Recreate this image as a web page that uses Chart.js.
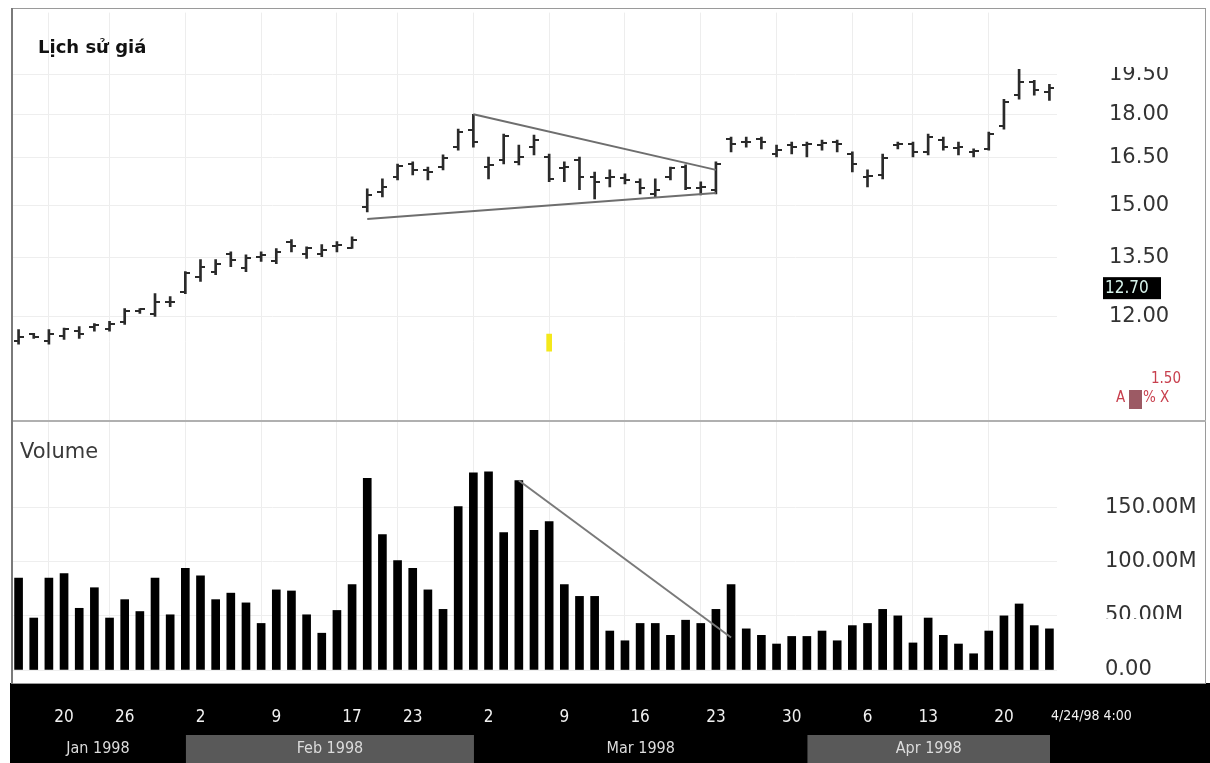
<!DOCTYPE html>
<html>
<head>
<meta charset="utf-8">
<script src="https://cdn.jsdelivr.net/npm/chart.js@4.4.1/dist/chart.umd.min.js"></script>
<style>
  html, body { margin: 0; padding: 0; background: #fff; }
  #wrap { width: 1210px; height: 763px; }
</style>
</head>
<body>
<div id="wrap"><canvas id="chart" width="1210" height="763"></canvas></div>
<script>
// trading days, Jan 14 - Apr 23 1998
const dates = [
  '1998-01-14','1998-01-15','1998-01-16','1998-01-20','1998-01-21','1998-01-22','1998-01-23',
  '1998-01-26','1998-01-27','1998-01-28','1998-01-29','1998-01-30',
  '1998-02-02','1998-02-03','1998-02-04','1998-02-05','1998-02-06',
  '1998-02-09','1998-02-10','1998-02-11','1998-02-12','1998-02-13',
  '1998-02-17','1998-02-18','1998-02-19','1998-02-20',
  '1998-02-23','1998-02-24','1998-02-25','1998-02-26','1998-02-27',
  '1998-03-02','1998-03-03','1998-03-04','1998-03-05','1998-03-06',
  '1998-03-09','1998-03-10','1998-03-11','1998-03-12','1998-03-13',
  '1998-03-16','1998-03-17','1998-03-18','1998-03-19','1998-03-20',
  '1998-03-23','1998-03-24','1998-03-25','1998-03-26','1998-03-27',
  '1998-03-30','1998-03-31','1998-04-01','1998-04-02','1998-04-03',
  '1998-04-06','1998-04-07','1998-04-08','1998-04-09',
  '1998-04-13','1998-04-14','1998-04-15','1998-04-16','1998-04-17',
  '1998-04-20','1998-04-21','1998-04-22','1998-04-23'
];

const openP = [11.42,11.58,11.42,11.53,11.65,11.74,11.69,11.86,12.12,12.05,
  12.34,12.61,13.00,13.13,13.61,13.23,13.53,13.40,13.94,13.61,
  13.61,13.83,13.77,14.95,15.40,15.87,16.29,16.10,16.19,16.85,
  17.44,16.19,16.42,16.36,16.85,16.52,16.16,16.42,15.87,15.84,
  15.84,15.72,15.34,15.87,16.19,15.53,15.47,17.13,17.02,17.13,
  16.62,16.92,16.92,16.92,17.02,16.62,15.87,15.94,16.92,16.95,
  16.69,17.09,16.82,16.69,16.79,17.58,18.70,19.19,18.81];
const highP = [11.69,11.60,11.69,11.72,11.76,11.83,11.88,12.19,12.19,12.56,
  12.49,13.13,13.45,13.45,13.66,13.58,13.66,13.75,14.00,13.80,
  13.86,13.94,14.08,15.50,15.81,16.29,16.36,16.19,16.59,17.47,
  18.00,16.52,17.30,16.92,17.26,16.62,16.36,16.52,16.03,16.10,
  15.97,15.81,15.81,16.19,16.26,15.72,16.36,17.19,17.19,17.19,
  16.92,17.02,17.02,17.09,17.09,16.69,16.10,16.62,17.02,17.02,
  17.30,17.19,17.02,16.79,17.37,18.55,19.70,19.27,19.11];
const lowP = [11.35,11.48,11.35,11.46,11.48,11.65,11.65,11.81,12.07,12.00,
  12.24,12.56,12.87,13.05,13.26,13.13,13.40,13.34,13.66,13.48,
  13.53,13.66,13.75,14.80,15.25,15.78,15.94,15.78,16.10,16.75,
  16.85,15.81,16.29,16.26,16.59,15.72,15.72,15.47,15.19,15.56,
  15.65,15.34,15.25,15.78,15.47,15.31,15.34,16.69,16.85,16.79,
  16.52,16.62,16.52,16.75,16.69,16.03,15.56,15.81,16.79,16.52,
  16.59,16.75,16.59,16.52,16.75,17.47,18.55,18.70,18.51];
const closeP = [11.51,11.51,11.58,11.69,11.58,11.79,11.83,12.14,12.17,12.36,
  12.36,13.08,13.26,13.34,13.45,13.50,13.56,13.66,13.83,13.77,
  13.72,13.86,14.00,15.31,15.56,16.23,16.10,16.03,16.49,17.37,
  17.02,16.26,17.23,16.52,17.09,15.81,16.19,15.87,15.72,15.87,
  15.78,15.53,15.47,16.16,15.53,15.56,16.29,16.95,17.02,17.02,
  16.75,16.85,16.95,16.98,16.95,16.29,15.90,16.49,16.95,16.69,
  17.19,16.85,16.85,16.72,17.30,18.44,19.19,18.89,18.96];

// volume in millions
const volume = [85,48,85,89,57,76,48,65,54,85,51,94,87,65,71,62,43,74,73,51,
  34,55,79,177,125,101,94,74,56,151,182,183,127,175,129,137,79,68,68,36,
  27,43,43,32,46,43,56,79,38,32,24,31,31,36,27,41,43,56,50,25,
  48,32,24,15,36,50,61,41,38];

const priceTicks = [12, 13.5, 15, 16.5, 18, 19.5];
const volumeTicks = [0, 50, 100, 150];
const monthNames = ['Jan','Feb','Mar','Apr','May','Jun','Jul','Aug','Sep','Oct','Nov','Dec'];

// trend lines drawn on the chart: [index, value]
const triUpper = [[30, 18.00], [46, 16.10]];
const triLower = [[23, 14.59], [46, 15.37]];
const volTrend = [[33, 175], [47, 30]];
const lastPrice = 12.70;

const dayObj = dates.map(d => new Date(d + 'T12:00:00'));
const weekStart = new Set();
const weekEnd = new Set();
dayObj.forEach((d, i) => {
  if (i > 0 && d.getDay() < dayObj[i - 1].getDay()) weekStart.add(i);
  if (i < dayObj.length - 1 && dayObj[i + 1].getDay() < d.getDay()) weekEnd.add(i);
});

function lineData(pts) {
  const arr = dates.map(() => null);
  pts.forEach(p => { arr[p[0]] = p[1]; });
  return arr;
}

const yellowMark = dates.map(() => null);
yellowMark[35] = [11.19, 11.58];

const FONT = '"DejaVu Sans", sans-serif';
const COND = '"DejaVu Sans Condensed", "DejaVu Sans", sans-serif';
const NONE = 'rgba(0,0,0,0)';

const decor = {
  id: 'decor',
  beforeDraw(chart) {
    const {ctx, width, height} = chart;
    const x = chart.scales.x;
    ctx.save();
    ctx.fillStyle = '#fff';
    ctx.fillRect(0, 0, width, height);
    ctx.fillStyle = '#000';
    ctx.fillRect(10, 683, width - 10, height - 683);
    // month boxes
    const bin = (x.getPixelForValue(1) - x.getPixelForValue(0));
    let s = 0;
    for (let i = 1; i <= dates.length; i++) {
      if (i === dates.length || dayObj[i].getMonth() !== dayObj[s].getMonth()) {
        const m = dayObj[s].getMonth();
        let l = x.getPixelForValue(s) - bin / 2 - 7;
        const r = x.getPixelForValue(i - 1) + bin / 2 - 7;
        if (l < 10) l = 10;
        if (m % 2 === 1) {
          ctx.fillStyle = '#595959';
          ctx.fillRect(l, 735, r - l, height - 735);
        }
        ctx.fillStyle = '#dcdcdc';
        ctx.font = '16px ' + COND;
        ctx.textAlign = 'center';
        ctx.textBaseline = 'middle';
        ctx.fillText(monthNames[m] + ' ' + dayObj[s].getFullYear(), (l + r) / 2, 749);
        s = i;
      }
    }
    ctx.restore();
  },
  afterDatasetsDraw(chart) {
    const {ctx} = chart;
    const x = chart.scales.x, y = chart.scales.yP;
    ctx.save();
    ctx.strokeStyle = '#2a2a2a';
    ctx.lineWidth = 2;
    ctx.beginPath();
    for (let i = 0; i < dates.length; i++) {
      const px = Math.round(x.getPixelForValue(i));
      const yo = Math.round(y.getPixelForValue(openP[i]));
      const yc = Math.round(y.getPixelForValue(closeP[i]));
      ctx.moveTo(px - 5, yo); ctx.lineTo(px, yo);
      ctx.moveTo(px, yc); ctx.lineTo(px + 5, yc);
    }
    ctx.stroke();
    ctx.restore();
  },
  afterDraw(chart) {
    const {ctx, width} = chart;
    const yP = chart.scales.yP, yV = chart.scales.yV;
    ctx.save();
    // clipped axis labels as in the picture
    ctx.fillStyle = '#fff';
    ctx.fillRect(1090, 50, 120, 17);
    ctx.fillRect(1090, 619, 120, 12);
    // frame and panel divider
    ctx.strokeStyle = '#9a9a9a';
    ctx.lineWidth = 1;
    ctx.strokeRect(12.5, 8.5, width - 17, 675);
    ctx.strokeStyle = '#b0b0b0';
    ctx.lineWidth = 2;
    ctx.beginPath();
    ctx.moveTo(12, yV.top);
    ctx.lineTo(width - 4, yV.top);
    ctx.stroke();
    ctx.strokeStyle = '#7a7a7a';
    ctx.beginPath();
    ctx.moveTo(12, 8); ctx.lineTo(12, 684);
    ctx.stroke();

    // panel titles
    ctx.fillStyle = '#111';
    ctx.font = 'bold 18px ' + FONT;
    ctx.textAlign = 'left';
    ctx.textBaseline = 'middle';
    ctx.fillText('Lịch sử giá', 38, 48);
    ctx.fillStyle = '#3a3a3a';
    ctx.font = '21px ' + FONT;
    ctx.fillText('Volume', 20, 453);

    // last price box
    const yl = yP.getPixelForValue(lastPrice);
    ctx.fillStyle = '#000';
    ctx.fillRect(1103, yl - 11, 58, 22);
    ctx.fillStyle = '#d8f4ec';
    ctx.font = '17px ' + COND;
    ctx.fillText(lastPrice.toFixed(2), 1105, yl);

    // scale controls
    ctx.fillStyle = '#c8404e';
    ctx.font = '15px ' + COND;
    ctx.textAlign = 'right';
    ctx.fillText('1.50', 1181, 379);
    ctx.textAlign = 'left';
    ctx.fillText('A', 1116, 398);
    ctx.fillStyle = '#9c5a64';
    ctx.fillRect(1129, 390, 13, 19);
    ctx.fillStyle = '#c8404e';
    ctx.fillText('% X', 1143, 398);

    // date stamp
    ctx.fillStyle = '#f2f2f2';
    ctx.font = '14px ' + COND;
    ctx.fillText('4/24/98 4:00', 1051, 716);
    ctx.restore();
  }
};

new Chart(document.getElementById('chart'), {
  data: {
    labels: dates,
    datasets: [
      {
        type: 'line', data: lineData(triUpper), yAxisID: 'yP',
        borderColor: '#6e6e6e', borderWidth: 2, pointRadius: 0, spanGaps: true
      },
      {
        type: 'line', data: lineData(triLower), yAxisID: 'yP',
        borderColor: '#6e6e6e', borderWidth: 2, pointRadius: 0, spanGaps: true
      },
      {
        type: 'line', data: lineData(volTrend), yAxisID: 'yV',
        borderColor: '#7a7a7a', borderWidth: 2, pointRadius: 0, spanGaps: true
      },
      {
        type: 'bar', data: lowP.map((l, i) => [l, highP[i]]), yAxisID: 'yP',
        backgroundColor: '#2a2a2a', barThickness: 2
      },
      {
        type: 'bar', data: yellowMark, yAxisID: 'yP',
        backgroundColor: '#f4e81a', barThickness: 5
      },
      {
        type: 'bar', data: volume, yAxisID: 'yV',
        backgroundColor: '#000', barThickness: 8
      }
    ]
  },
  options: {
    responsive: false,
    animation: false,
    layout: { padding: { left: 11, top: 10, right: 0, bottom: 0 } },
    datasets: { bar: { grouped: false } },
    plugins: { legend: { display: false }, tooltip: { enabled: false } },
    scales: {
      x: {
        type: 'category',
        offset: true,
        border: { display: false },
        grid: {
          offset: false, drawTicks: true, tickLength: 37, tickColor: NONE,
          color: c => weekEnd.has(c.index) ? '#ededed' : NONE
        },
        ticks: {
          autoSkip: false, maxRotation: 0, padding: 0,
          color: '#f0f0f0',
          font: { family: COND, size: 17 },
          callback: (v, i) => weekStart.has(i) ? String(dayObj[i].getDate()) : ''
        },
        afterFit: s => { s.height = 93; }
      },
      yP: {
        type: 'logarithmic',
        position: 'right',
        stack: 'panels',
        stackWeight: 410,
        min: 9.73,
        max: 22.07,
        border: { display: false },
        grid: { color: '#eeeeee', drawTicks: true, tickLength: 52, tickColor: NONE },
        afterBuildTicks: s => { s.ticks = priceTicks.map(v => ({ value: v })); },
        ticks: {
          padding: 0, crossAlign: 'near', color: '#333',
          font: { family: FONT, size: 21 },
          callback: v => Number(v).toFixed(2)
        },
        afterFit: s => { s.width = 153; }
      },
      yV: {
        type: 'linear',
        position: 'right',
        stack: 'panels',
        stackWeight: 250,
        min: 0,
        max: 230,
        border: { display: false },
        grid: { color: '#eeeeee', drawTicks: true, tickLength: 48, tickColor: NONE },
        afterBuildTicks: s => { s.ticks = volumeTicks.map(v => ({ value: v })); },
        ticks: {
          padding: 0, crossAlign: 'near', color: '#333',
          font: { family: FONT, size: 21 },
          callback: v => v === 0 ? '0.00' : Number(v).toFixed(2) + 'M'
        },
        afterFit: s => { s.width = 153; }
      }
    }
  },
  plugins: [decor]
});
</script>
</body>
</html>
